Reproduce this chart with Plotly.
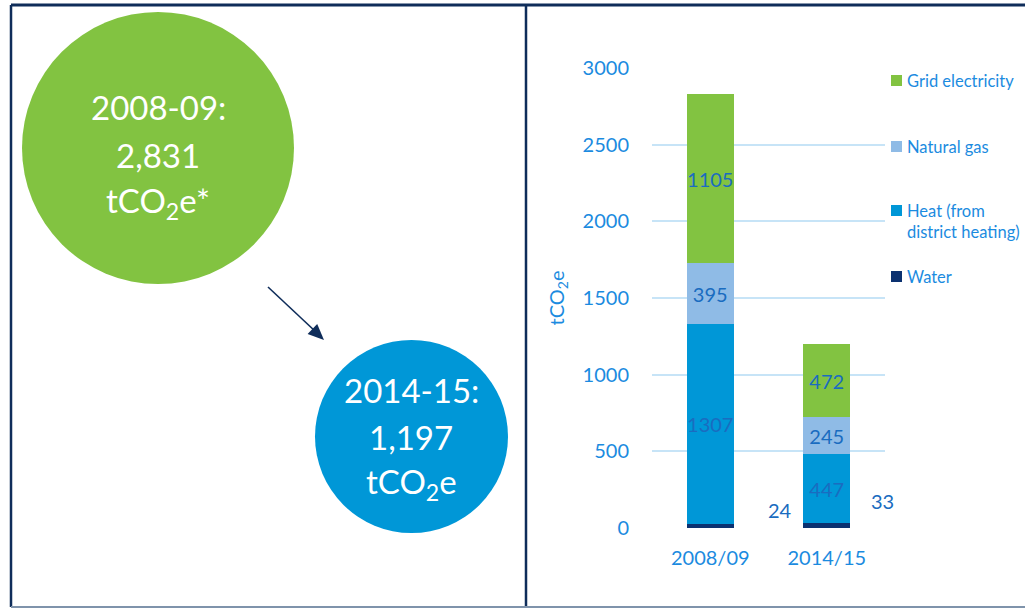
import plotly.graph_objects as go

W, H = 1025, 609

categories = ["2008/09", "2014/15"]
water = [24, 33]
heat = [1307, 447]
natural_gas = [395, 245]
grid_electricity = [1105, 472]
y_ticks = [0, 500, 1000, 1500, 2000, 2500, 3000]
circle_1_lines = ["2008-09:", "2,831", "tCO<sub>2</sub>e*"]
circle_2_lines = ["2014-15:", "1,197", "tCO<sub>2</sub>e"]
legend_labels = ["Grid electricity", "Natural gas", "Heat (from<br>district heating)", "Water"]

C_GREEN = "#82c341"
C_GAS = "#8fbbe6"
C_HEAT = "#0097d7"
C_WATER = "#0b3170"
C_NAVY = "#0f2d5a"
C_TICK = "#1b8be0"
C_LABEL = "#1a6cc0"
FONT = "Lato"

def px(x):
    return x / W

def py(y):
    return 1 - y / H

fig = go.Figure()
series = [("Water", water, C_WATER), ("Heat (from district heating)", heat, C_HEAT),
          ("Natural gas", natural_gas, C_GAS), ("Grid electricity", grid_electricity, C_GREEN)]
for name, vals, col in series:
    kw = {}
    if name != "Water":
        kw = dict(text=[str(v) for v in vals], textposition="inside", insidetextanchor="middle",
                  textangle=0, textfont=dict(family=FONT, size=20, color=C_LABEL))
    else:
        kw = dict(textposition="none")
    fig.add_trace(go.Bar(
        x=categories, y=vals, name=name, marker=dict(color=col, line=dict(width=0)),
        cliponaxis=False, showlegend=False, hoverinfo="x+y+name", **kw
    ))

fig.update_layout(
    width=W, height=H, barmode="stack", bargap=0.6,
    margin=dict(l=0, r=0, t=0, b=0),
    paper_bgcolor="white", plot_bgcolor="white",
    font=dict(family=FONT, color=C_TICK),
    uniformtext=dict(mode="show", minsize=20),
    xaxis=dict(domain=[px(652), px(885)], range=[-0.5, 1.5], showgrid=False, zeroline=False, showline=False,
               tickfont=dict(size=20, color=C_TICK), ticklabelstandoff=16, automargin=False),
    yaxis=dict(domain=[py(528), py(68)], range=[0, 3000], tickvals=y_ticks,
               showgrid=True, gridcolor="#c7e4f7", gridwidth=2, zeroline=False, showline=False,
               tickfont=dict(size=20, color=C_TICK), ticklabelstandoff=22, automargin=False,
               title=dict(text="tCO<sub>2</sub>e", font=dict(size=20, color=C_TICK), standoff=12)),
)

shapes = []
shapes.append(dict(type="circle", xref="paper", yref="paper", x0=px(22), x1=px(294), y0=py(284), y1=py(12),
                   fillcolor=C_GREEN, line=dict(width=0), layer="below"))
shapes.append(dict(type="circle", xref="paper", yref="paper", x0=px(315), x1=px(508), y0=py(533), y1=py(340),
                   fillcolor=C_HEAT, line=dict(width=0), layer="below"))
shapes.append(dict(type="line", xref="paper", yref="paper", x0=px(11), x1=1, y0=py(5), y1=py(5), line=dict(color=C_NAVY, width=3)))
shapes.append(dict(type="line", xref="paper", yref="paper", x0=px(11), x1=px(11), y0=py(5), y1=py(607), line=dict(color=C_NAVY, width=2.5)))
shapes.append(dict(type="line", xref="paper", yref="paper", x0=px(526), x1=px(526), y0=py(5), y1=py(607), line=dict(color=C_NAVY, width=2.5)))
shapes.append(dict(type="line", xref="paper", yref="paper", x0=px(11), x1=1, y0=py(607), y1=py(607), line=dict(color="#7f93ab", width=2)))
# arrow (line + head)
shapes.append(dict(type="line", xref="paper", yref="paper", x0=px(268), y0=py(287), x1=px(316), y1=py(332),
                   line=dict(color=C_NAVY, width=1.6)))
head = [(324, 340), (307.6, 334.1), (317.2, 323.9)]
path = "M " + " L ".join(f"{px(a):.5f},{py(b):.5f}" for a, b in head) + " Z"
shapes.append(dict(type="path", xref="paper", yref="paper", path=path, fillcolor=C_NAVY, line=dict(width=0)))
legend_cols = [C_GREEN, C_GAS, C_HEAT, C_WATER]
legend_y = [80, 146, 210, 276]
for col, yy in zip(legend_cols, legend_y):
    shapes.append(dict(type="rect", xref="paper", yref="paper", x0=px(891), x1=px(902), y0=py(yy + 6), y1=py(yy - 5),
                       fillcolor=col, line=dict(width=0)))
fig.update_layout(shapes=shapes)

ann = []
for lines, cx, ys in [(circle_1_lines, 158, [107, 155, 203]), (circle_2_lines, 411, [390, 437, 483])]:
    for t, yy in zip(lines, ys):
        ann.append(dict(xref="paper", yref="paper", x=px(cx), y=py(yy), text=t, showarrow=False,
                        font=dict(family=FONT, size=33, color="white"), xanchor="center", yanchor="middle"))
for lab, yy in zip(legend_labels, legend_y):
    ann.append(dict(xref="paper", yref="paper", x=px(905), y=py(yy - 11), text=lab, showarrow=False,
                    xanchor="left", yanchor="top", align="left",
                    font=dict(family=FONT, size=16.5, color=C_TICK)))
ann.append(dict(x=0.6, y=water[0], xref="x", yref="y", text=str(water[0]), showarrow=False, yshift=14,
                font=dict(family=FONT, size=20, color=C_LABEL)))
ann.append(dict(x=1.48, y=water[1], xref="x", yref="y", text=str(water[1]), showarrow=False, yshift=22,
                font=dict(family=FONT, size=20, color=C_LABEL)))
fig.update_layout(annotations=ann)

fig.write_html("out.html", config={"displayModeBar": False},
               post_script="document.body.style.margin='0';document.body.style.overflow='hidden';")
